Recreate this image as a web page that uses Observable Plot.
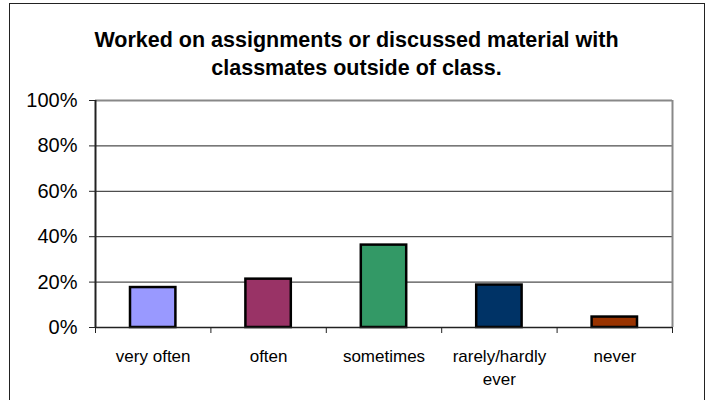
<!DOCTYPE html>
<html>
<head>
<meta charset="utf-8">
<script src="https://cdn.jsdelivr.net/npm/d3@7"></script>
<script src="https://cdn.jsdelivr.net/npm/@observablehq/plot@0.6"></script>
<style>
  html, body { margin: 0; padding: 0; background: #fff; }
  #wrap { position: relative; width: 707px; height: 400px; overflow: hidden; font-family: "Liberation Sans", Arial, sans-serif; }
  #border { position: absolute; left: 9px; top: 3px; width: 696px; height: 420px; border: 1.5px solid #222; box-sizing: border-box; }
  #title { position: absolute; left: 10px; width: 693px; top: 27px; text-align: center; font-weight: bold; font-size: 21.5px; line-height: 27.5px; color: #000; }
  #chart { position: absolute; left: 0; top: 0; }
</style>
</head>
<body>
<div id="wrap">
  <div id="chart"></div>
  <div id="border"></div>
  <div id="title">Worked on assignments or discussed material with<br>classmates outside of class.</div>
</div>
<script>
const categories = ["very often", "often", "sometimes", "rarely/hardly ever", "never"];
const tickLabels = ["very often", "often", "sometimes", "rarely/hardly\never", "never"];
const values = [0.176, 0.213, 0.363, 0.187, 0.046];
const colors = ["#9999FF", "#993366", "#339966", "#003366", "#993300"];
const yTicks = [0, 0.2, 0.4, 0.6, 0.8, 1];
const gridTicks = [0.2, 0.4, 0.6, 0.8];

const data = categories.map((c, i) => ({category: c, index: i, value: values[i], color: colors[i]}));
const n = categories.length;

const chart = Plot.plot({
  width: 707,
  height: 400,
  marginLeft: 95,
  marginRight: 35,
  marginTop: 100,
  marginBottom: 73,
  style: {fontFamily: '"Liberation Sans", Arial, sans-serif', color: "#000", background: "transparent"},
  x: {domain: [0, n]},
  y: {domain: [0, 1]},
  color: {type: "identity"},
  marks: [
    Plot.gridY(gridTicks, {stroke: "#222", strokeOpacity: 1, strokeWidth: 1}),
    Plot.ruleY([1], {stroke: "#888", strokeWidth: 2}),
    Plot.ruleX([n], {stroke: "#888", strokeWidth: 2, y1: 0, y2: 1}),
    Plot.rectY(data, {
      x1: d => d.index,
      x2: d => d.index + 1,
      y: "value",
      fill: "color",
      stroke: "#000",
      strokeWidth: 2.5,
      insetLeft: 35,
      insetRight: 35
    }),
    Plot.ruleY([0], {stroke: "#222", strokeWidth: 1.5}),
    Plot.ruleX([0], {stroke: "#222", strokeWidth: 2, y1: 0, y2: 1}),
    Plot.axisY({
      ticks: yTicks,
      tickFormat: d3.format(".0%"),
      tickSize: 6,
      tickPadding: 12,
      fontSize: 20,
      stroke: "#222",
      label: null
    }),
    Plot.axisX({
      ticks: d3.range(n + 1),
      tickSize: 6,
      tickFormat: () => "",
      stroke: "#222",
      label: null
    }),
    Plot.axisX({
      ticks: d3.range(n).map(i => i + 0.5),
      tickSize: 0,
      tickPadding: 18,
      tickFormat: d => tickLabels[Math.floor(d)],
      fontSize: 17,
      lineHeight: 1.35,
      label: null
    })
  ]
});
document.getElementById("chart").appendChild(chart);
</script>
</body>
</html>
